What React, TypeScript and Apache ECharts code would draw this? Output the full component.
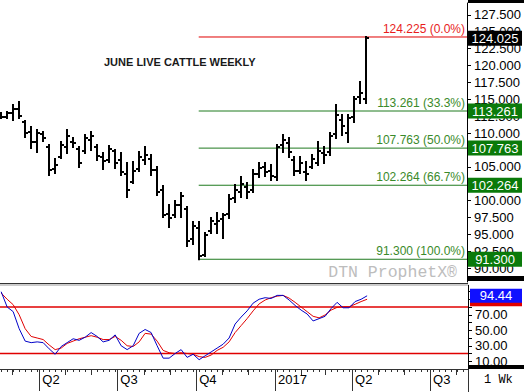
import React, { useEffect, useRef } from 'react';
import * as echarts from 'echarts';

const DAY = 86400000;
const FONT = '"Liberation Sans", Arial, sans-serif';
const MONO = '"Liberation Mono", "DejaVu Sans Mono", monospace';

// ---- data ----
const firstBarDate = '2016-02-16';
const opens = [
  112.5, 112.4, 112.9, 113.6, 111.6, 110.2, 108.6, 109.9, 108.0, 104.6,
  106.5, 108.0, 108.7, 107.6, 107.3, 109.0, 108.0, 106.4, 106.0, 107.3,
  106.0, 104.0, 102.8, 104.6, 106.0, 106.2, 104.5, 101.5, 98.0, 97.8,
  99.3, 98.7, 94.3, 96.0, 92.0, 95.5, 96.5, 97.2, 98.0, 100.4,
  101.2, 102.0, 101.6, 104.0, 105.0, 104.3, 103.5, 108.2, 108.5, 106.0,
  104.3, 104.2, 105.0, 105.6, 107.0, 107.2, 109.8, 112.0, 110.0, 112.3,
  115.3, 115.0,
];
const highs = [
  112.96, 113.11, 114.15, 114.59, 111.78, 110.89, 110.44, 110.15, 108.22, 106.15,
  108.67, 110.44, 109.26, 107.93, 109.7, 110.15, 108.22, 107.04, 108.07, 107.48,
  107.04, 105.56, 105.7, 107.19, 107.93, 106.74, 104.96, 102.15, 99.33, 99.93,
  101.11, 99.04, 96.81, 96.81, 95.19, 97.41, 98.15, 98.0, 100.81, 102.3,
  103.48, 102.59, 104.52, 105.56, 105.56, 105.26, 108.22, 109.7, 109.26, 106.44,
  106.44, 105.7, 106.74, 108.67, 107.93, 110.0, 114.15, 112.67, 112.67, 115.33,
  117.56, 124.225,
];
const lows = [
  112.22, 112.22, 111.93, 112.22, 109.41, 107.78, 107.19, 108.81, 103.78, 104.07,
  106.3, 107.04, 107.93, 104.96, 107.04, 107.48, 106.0, 104.67, 105.7, 104.81,
  103.78, 100.52, 102.59, 104.37, 105.41, 103.78, 100.81, 97.56, 96.07, 97.56,
  97.56, 93.26, 93.56, 91.3, 91.78, 95.19, 95.19, 94.44, 97.41, 99.78,
  100.52, 100.37, 101.26, 103.48, 103.63, 103.04, 103.04, 107.19, 106.44, 103.78,
  104.07, 103.04, 104.81, 105.26, 105.56, 106.74, 109.26, 109.7, 108.67, 111.63,
  114.44, 114.44,
];
const closes = [
  112.4, 112.9, 113.6, 112.5, 110.0, 108.7, 110.0, 109.2, 104.5, 105.3,
  108.2, 109.6, 108.5, 105.5, 109.2, 109.5, 106.6, 105.8, 107.6, 105.5,
  104.2, 101.5, 104.4, 106.5, 106.8, 104.5, 101.3, 97.9, 97.4, 99.3,
  100.6, 94.0, 96.2, 91.8, 94.9, 96.9, 97.0, 97.8, 100.2, 101.6,
  102.4, 101.2, 104.0, 104.8, 104.2, 103.6, 108.0, 108.9, 107.2, 104.3,
  105.6, 104.0, 106.2, 107.3, 106.8, 109.5, 112.6, 111.0, 112.2, 115.0,
  116.0, 124.025,
];
const stochK = [
  99.7, 80, 74, 52, 36, 34, 35, 34, 26, 19,
  29, 34, 39, 37, 41, 47, 42, 35, 37, 44,
  30, 25, 30, 46, 51, 47, 30, 14, 14, 20,
  25, 15, 19, 12, 17, 22, 27, 32, 40, 58,
  67, 75, 85, 90, 92, 91, 95, 95, 89, 82,
  76, 71, 62, 65, 68, 78, 86, 79, 79, 87,
  90, 94.44,
];
const stochD = [
  98, 90, 83, 70, 52, 42, 40, 38, 31, 25,
  27, 33, 36, 39, 41, 43, 41, 38, 38, 42,
  37, 30, 29, 35, 46, 45, 36, 24, 21, 20,
  21, 20, 19, 16, 15, 18, 24, 28, 35, 47,
  56, 65, 75, 84, 89, 92, 94, 95, 91.5, 86,
  80, 74, 68, 66, 69.7, 76, 79.5, 80.4, 80.4, 83.5,
  87, 90,
];
const fibLevels = [124.225, 113.261, 107.763, 102.264, 91.3];
const fibPcts = ['0.0%', '33.3%', '50.0%', '66.7%', '100.0%'];
const lastClose = 124.025;
const priceTickValues = [90, 92.5, 95, 97.5, 100, 102.5, 105, 107.5, 110, 112.5, 115, 117.5, 120, 122.5, 125, 127.5];
const stochLabelValues = [10, 30, 50, 70, 90];
const stochTickValues = [10, 20, 30, 40, 50, 60, 70, 80, 90, 100];
const stochLevels = [80, 20];
const quarterStarts = ['2016-04-01', '2016-07-01', '2016-10-01', '2017-01-01', '2017-04-01', '2017-07-01'];
const quarterLabels = ['Q2', 'Q3', 'Q4', '2017', 'Q2', 'Q3'];
const titleText = 'JUNE LIVE CATTLE WEEKLY';
const watermarkText = 'DTN ProphetX®';
const periodText = '1 Wk';

// ---- colours ----
const RED_LINE = '#e00000';
const RED_TEXT = '#e81c1c';
const GREEN_LINE = '#1f7a1f';
const GREEN_TEXT = '#3a8a2a';
const GREEN_BOX = '#0a7a0a';

function App() {
  const ref = useRef<HTMLDivElement>(null);

  useEffect(() => {
    if (!ref.current) return;
    const chart = echarts.init(ref.current, undefined, { renderer: 'svg' });

    const firstT = Date.parse(firstBarDate + 'T12:00:00Z');
    const weeks = opens.map((_, i) => firstT + i * 7 * DAY);
    const xMin = Date.UTC(2016, 1, 15, 3, 20);
    const xMax = xMin + 546.1 * DAY;

    const ohlc = weeks.map((t, i) => [t, opens[i], highs[i], lows[i], closes[i]]);
    const lowIdx = lows.indexOf(Math.min(...lows));
    const fibStart = weeks[lowIdx];

    const weeklyTicks: number[] = [];
    for (let t = firstT; t <= xMax; t += 7 * DAY) weeklyTicks.push(t);
    const monthlyTicks: number[] = [];
    for (let k = 0; k < 30; k++) {
      const t = Date.UTC(2016, 2 + k, 1);
      if (t > xMax) break;
      monthlyTicks.push(t);
    }
    const quarterTimes = quarterStarts.map((d) => Date.parse(d + 'T00:00:00Z'));

    const stochGridRect = { left: 0, top: 285.3, width: 468, height: 83.7 };

    const fibSeries = fibLevels.map((v, i) => {
      const isTop = i === 0;
      const lineColor = isTop ? RED_LINE : GREEN_LINE;
      const markPointData: any[] = [];
      if (isTop) {
        markPointData.push({
          coord: [xMax, lastClose],
          itemStyle: { color: '#000' },
          label: { formatter: lastClose.toFixed(3) },
        });
      } else {
        markPointData.push({
          coord: [xMax, v],
          itemStyle: { color: GREEN_BOX },
          label: { formatter: v.toFixed(3) },
        });
      }
      return {
        type: 'line',
        xAxisIndex: 0,
        yAxisIndex: 0,
        color: lineColor,
        data: [[fibStart, v], [xMax, v]],
        symbol: 'none',
        silent: true,
        lineStyle: { color: lineColor, width: 1 },
        z: 3,
        markLine: {
          silent: true,
          symbol: 'none',
          lineStyle: { color: lineColor, width: 1, type: 'solid', opacity: 0 },
          label: {
            show: true,
            position: 'insideEndTop',
            formatter: `${v.toFixed(3)} (${fibPcts[i]})`,
            color: isTop ? RED_TEXT : GREEN_TEXT,
            fontSize: 12,
            fontFamily: FONT,
            distance: 2,
            opacity: 1,
          },
          data: [[{ coord: [fibStart, v] }, { coord: [xMax, v] }]],
        },
        markPoint: {
          silent: true,
          symbol: 'rect',
          symbolSize: [54, 15],
          symbolOffset: [28, 0],
          label: { show: true, position: 'inside', color: '#fff', fontSize: 13, fontFamily: FONT },
          data: markPointData,
        },
      };
    });

    const stochLevelSeries = stochLevels.map((lv) => ({
      type: 'line',
      xAxisIndex: 1,
      yAxisIndex: 1,
      color: '#e00000',
      data: [[xMin, lv], [xMax, lv]],
      symbol: 'none',
      silent: true,
      lineStyle: { color: '#e00000', width: 1.5 },
      z: 2,
    }));

    const option: any = {
      animation: false,
      backgroundColor: '#fff',
      grid: [
        { left: 0, top: 3, width: 468, height: 279 },
        { ...stochGridRect },
        { ...stochGridRect },
        { ...stochGridRect },
      ],
      xAxis: [
        { type: 'value', gridIndex: 0, min: xMin, max: xMax, show: false },
        {
          type: 'value', gridIndex: 1, min: xMin, max: xMax,
          axisLine: { show: true, lineStyle: { color: '#333', width: 1 } },
          axisTick: { show: true, customValues: weeklyTicks, length: 3, lineStyle: { color: '#333' } },
          axisLabel: { show: false },
          splitLine: { show: false },
        },
        {
          type: 'value', gridIndex: 2, min: xMin, max: xMax,
          axisLine: { show: false },
          axisTick: { show: true, customValues: monthlyTicks, length: 6, lineStyle: { color: '#333' } },
          axisLabel: { show: false },
          splitLine: { show: false },
        },
        {
          type: 'value', gridIndex: 3, min: xMin, max: xMax,
          axisLine: { show: false },
          axisTick: { show: true, customValues: quarterTimes, length: 22, lineStyle: { color: '#333' } },
          axisLabel: {
            show: true,
            customValues: quarterTimes,
            formatter: (val: number) => {
              const idx = quarterTimes.findIndex((q) => Math.abs(q - val) < DAY);
              return idx >= 0 ? quarterLabels[idx] : '';
            },
            align: 'left',
            padding: [0, 0, 0, 3],
            margin: 4,
            color: '#000',
            fontSize: 13,
            fontFamily: FONT,
          },
          splitLine: { show: false },
        },
      ],
      yAxis: [
        {
          type: 'value', gridIndex: 0, position: 'right', min: 87.93, max: 129.26,
          axisLine: { show: true, lineStyle: { color: '#000', width: 1 } },
          axisTick: { show: true, customValues: priceTickValues, length: 4, lineStyle: { color: '#000' } },
          axisLabel: {
            show: true, customValues: priceTickValues,
            formatter: (val: number) => val.toFixed(3),
            color: '#000', fontSize: 13, fontFamily: FONT, margin: 7,
          },
          splitLine: { show: false },
        },
        {
          type: 'value', gridIndex: 1, position: 'right', min: 0, max: 108,
          axisLine: { show: true, lineStyle: { color: '#000', width: 1 } },
          axisTick: { show: true, customValues: stochTickValues, length: 4, lineStyle: { color: '#000' } },
          axisLabel: {
            show: true, customValues: stochLabelValues,
            formatter: (val: number) => val.toFixed(2),
            color: '#000', fontSize: 13, fontFamily: FONT, margin: 7,
          },
          splitLine: { show: false },
        },
        { type: 'value', gridIndex: 2, min: 0, max: 108, show: false },
        { type: 'value', gridIndex: 3, min: 0, max: 108, show: false },
      ],
      series: [
        ...fibSeries,
        ...stochLevelSeries,
        {
          type: 'custom',
          xAxisIndex: 0,
          yAxisIndex: 0,
          data: ohlc,
          encode: { x: 0, y: [1, 2, 3, 4] },
          silent: true,
          z: 5,
          renderItem: (_params: any, api: any) => {
            const t = api.value(0);
            const o = api.coord([t, api.value(1)]);
            const h = api.coord([t, api.value(2)]);
            const l = api.coord([t, api.value(3)]);
            const c = api.coord([t, api.value(4)]);
            const cx = Math.round(h[0]);
            const oy = Math.round(o[1]);
            const cy = Math.round(c[1]);
            const st = { stroke: '#000', lineWidth: 2 };
            return {
              type: 'group',
              children: [
                { type: 'line', shape: { x1: cx, y1: h[1] - 1, x2: cx, y2: l[1] + 1 }, style: st },
                { type: 'line', shape: { x1: cx - 3, y1: oy, x2: cx, y2: oy }, style: st },
                { type: 'line', shape: { x1: cx, y1: cy, x2: cx + 3, y2: cy }, style: st },
              ],
            };
          },
        },
        {
          type: 'line',
          xAxisIndex: 1,
          yAxisIndex: 1,
          color: '#e00000',
          data: weeks.map((t, i) => [t, stochD[i]]),
          symbol: 'none',
          silent: true,
          lineStyle: { color: '#e00000', width: 1 },
          z: 3,
          markPoint: {
            silent: true,
            symbol: 'rect',
            symbolSize: [52, 14],
            symbolOffset: [28, 0],
            itemStyle: { color: '#e00000' },
            label: { show: false },
            data: [{ coord: [xMax, stochD[stochD.length - 1]] }],
          },
        },
        {
          type: 'line',
          xAxisIndex: 1,
          yAxisIndex: 1,
          color: '#0000c8',
          data: weeks.map((t, i) => [t, stochK[i]]),
          symbol: 'none',
          silent: true,
          lineStyle: { color: '#0000c8', width: 1 },
          z: 4,
          markPoint: {
            silent: true,
            symbol: 'rect',
            symbolSize: [52, 14],
            symbolOffset: [28, 0],
            itemStyle: { color: '#1010ff' },
            label: {
              show: true, position: 'inside', color: '#fff', fontSize: 13, fontFamily: FONT,
              formatter: stochK[stochK.length - 1].toFixed(2),
            },
            data: [{ coord: [xMax, stochK[stochK.length - 1]] }],
          },
        },
      ],
      graphic: [
        { type: 'rect', shape: { x: 468, y: 0, width: 56, height: 3 }, style: { fill: '#000' }, silent: true },
        { type: 'rect', shape: { x: 468, y: 276, width: 56, height: 5 }, style: { fill: '#000' }, silent: true },
        { type: 'rect', shape: { x: 468, y: 365, width: 56, height: 4 }, style: { fill: '#000' }, silent: true },
        { type: 'line', shape: { x1: 0, y1: 283.5, x2: 468, y2: 283.5 }, style: { stroke: '#333', lineWidth: 1 }, silent: true },
        { type: 'line', shape: { x1: 0, y1: 285, x2: 468, y2: 285 }, style: { stroke: '#999', lineWidth: 1 }, silent: true },
        { type: 'line', shape: { x1: 468.5, y1: 369, x2: 468.5, y2: 392 }, style: { stroke: '#333', lineWidth: 1 }, silent: true },
        {
          type: 'text', x: 104, y: 56, silent: true,
          style: { text: titleText, fill: '#1a1a1a', fontSize: 11, fontWeight: 'bold', fontFamily: FONT, align: 'left', verticalAlign: 'top' },
        },
        {
          type: 'text', x: 457, y: 272, silent: true,
          style: { text: watermarkText, fill: '#bdbdbd', fontSize: 16.5, fontFamily: MONO, align: 'right', verticalAlign: 'middle' },
        },
        {
          type: 'text', x: 484, y: 380, silent: true,
          style: { text: periodText, fill: '#000', fontSize: 12, fontFamily: MONO, align: 'left', verticalAlign: 'middle' },
        },
      ],
    };

    chart.setOption(option);
    return () => chart.dispose();
  }, []);

  return (
    <div
      ref={ref}
      style={{ position: 'absolute', left: 0, top: 0, width: 524, height: 392, background: '#fff' }}
    />
  );
}

export default App;
